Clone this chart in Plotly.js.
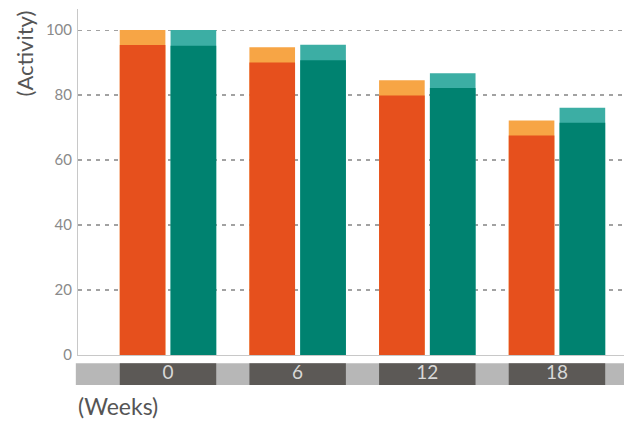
<!DOCTYPE html>
<html>
<head>
<meta charset="utf-8">
<script src="https://cdn.plot.ly/plotly-3.0.1.min.js"></script>
<style>html,body{margin:0;padding:0;background:#fff;}#chart{width:624px;height:422px;}</style>
</head>
<body>
<div id="chart"></div>
<script>
// Data
var weeks = ["0", "6", "12", "18"];
var orangeTotal = [100, 94.7, 84.6, 72.2];
var orangeLower = [95.4, 90.0, 79.9, 67.6];
var tealTotal = [100, 95.5, 86.7, 76.1];
var tealLower = [95.2, 90.7, 82.2, 71.5];
var yTicks = [0, 20, 40, 60, 80, 100];

var xs = weeks.map(function(_, i){ return i; });
var W = 0.352;

function bar(y, color, off){
  return {type:'bar', x: xs, y: y, width: W, offset: off,
    marker:{color: color, line:{width:0}}, hoverinfo:'skip', showlegend:false};
}
var data = [
  bar(orangeTotal, '#f7a545', -0.372),
  bar(orangeLower, '#e6501d', -0.372),
  bar(tealTotal, '#3caea4', 0.020),
  bar(tealLower, '#008270', 0.020)
];

var shapes = [{type:'rect', xref:'paper', yref:'paper', x0:-0.004, x1:1, y0:-0.0865, y1:-0.0235,
  fillcolor:'#b7b7b7', line:{width:0}, layer:'below'}];
xs.forEach(function(i){
  shapes.push({type:'rect', xref:'x', yref:'paper', x0:i-0.372, x1:i+0.372, y0:-0.0865, y1:-0.0235,
    fillcolor:'#5c5956', line:{width:0}, layer:'below'});
});

var layout = {
  width: 624, height: 422,
  margin: {l:78, r:0, t:9, b:67, pad:0},
  paper_bgcolor:'#fff', plot_bgcolor:'#fff',
  barmode:'overlay',
  font:{family:'Lato, "Open Sans", sans-serif', color:'#888'},
  xaxis:{range:[-0.694, 3.517], tickvals: xs, ticktext: weeks, showgrid:false, zeroline:false,
    showline:true, linecolor:'#c8c8c8', linewidth:1, ticks:'',
    tickfont:{size:19, color:'#d8d8d8', family:'Lato, "Open Sans", sans-serif'}, fixedrange:true},
  yaxis:{range:[0, 106.5], tickvals: yTicks, showgrid:true, gridcolor:'#a2a2a2', griddash:'4px,5px', gridwidth:1.2,
    zeroline:false, showline:true, linecolor:'#c8c8c8', linewidth:1, ticks:'outside', ticklen:2, tickcolor:'rgba(0,0,0,0)',
    tickfont:{size:15, color:'#8a8a8a'}, fixedrange:true},
  shapes: shapes,
  annotations:[
    {text:'(Activity)', xref:'paper', yref:'paper', x:-0.098, y:1.003, xanchor:'center', yanchor:'top',
      textangle:-90, showarrow:false, font:{size:22, color:'#555', family:'Lato, "Open Sans", sans-serif'}},
    {text:'(Weeks)', xref:'paper', yref:'paper', x:-0.004, y:-0.1, xanchor:'left', yanchor:'top',
      showarrow:false, font:{size:23, color:'#555', family:'Lato, "Open Sans", sans-serif'}}
  ]
};
Plotly.newPlot('chart', data, layout, {displayModeBar:false, staticPlot:true});
</script>
</body>
</html>
